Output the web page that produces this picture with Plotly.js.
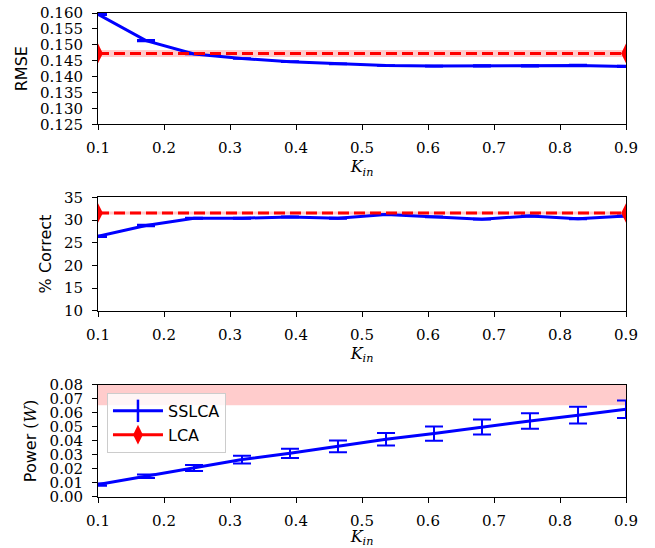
<!DOCTYPE html>
<html>
<head>
<meta charset="utf-8">
<script src="https://cdn.plot.ly/plotly-3.0.1.min.js"></script>
<style>html,body{margin:0;padding:0;background:#fff;}#chart{width:655px;height:548px;}</style>
</head>
<body>
<div id="chart"></div>
<script>
// ---- data ----
var kIn = [0.1, 0.1727, 0.2455, 0.3182, 0.3909, 0.4636, 0.5364, 0.6091, 0.6818, 0.7545, 0.8273, 0.9];

var sslcaRmse    = [0.1596, 0.1513, 0.1471, 0.1457, 0.1447, 0.1440, 0.1435, 0.1433, 0.1434, 0.1434, 0.1435, 0.1432];
var sslcaRmseErr = [0.0002, 0.0002, 0.0001, 0.0001, 0.0001, 0.0001, 0.0001, 0.0001, 0.0002, 0.0002, 0.0002, 0.0002];

var sslcaCorrect    = [26.4, 28.8, 30.4, 30.4, 30.7, 30.4, 31.2, 30.7, 30.2, 30.9, 30.3, 30.9];
var sslcaCorrectErr = [0.15, 0.15, 0.1, 0.1, 0.1, 0.1, 0.1, 0.1, 0.1, 0.1, 0.1, 0.1];

var sslcaPower    = [0.0089, 0.0148, 0.0207, 0.0267, 0.0312, 0.0362, 0.0412, 0.0453, 0.0500, 0.0543, 0.0584, 0.0626];
var sslcaPowerErr = [0.0008, 0.0012, 0.0021, 0.0027, 0.0033, 0.0042, 0.0045, 0.0051, 0.0054, 0.0055, 0.0060, 0.0063];

var lcaX = [0.1, 0.9];
var lcaRmse = 0.1473, lcaRmseErr = 0.0011;
var lcaCorrect = 31.55, lcaCorrectErr = 0.35;
var lcaPower = 0.09, lcaPowerErr = 0.0245;

var seriesNames = ['SSLCA', 'LCA'];

// ---- styles ----
var BLUE = '#0000ff', RED = '#ff0000', BAND = 'rgba(255,0,0,0.2)';
var traces = [];

function addPanel(xa, ya, yv, ye, lv, le) {
  var lo = lcaX.map(function(){return lv - le;});
  var hi = lcaX.map(function(){return lv + le;});
  traces.push({x: lcaX, y: lo, xaxis: xa, yaxis: ya, mode: 'lines', line: {width: 0, color: BAND}, showlegend: false, hoverinfo: 'skip'});
  traces.push({x: lcaX, y: hi, xaxis: xa, yaxis: ya, mode: 'lines', line: {width: 0, color: BAND}, fill: 'tonexty', fillcolor: BAND, showlegend: false, hoverinfo: 'skip'});
  traces.push({x: kIn, y: yv, xaxis: xa, yaxis: ya, mode: 'lines', name: seriesNames[0],
    showlegend: false, line: {color: BLUE, width: 3},
    error_y: {type: 'data', array: ye, visible: true, color: BLUE, thickness: 2, width: 9}});
  traces.push({x: lcaX, y: lcaX.map(function(){return lv;}), xaxis: xa, yaxis: ya, mode: 'lines+markers', name: seriesNames[1],
    showlegend: false, line: {color: RED, width: 3, dash: '11px,5px'},
    marker: {symbol: 'diamond-tall', size: 14, color: RED}, cliponaxis: true});
}
addPanel('x', 'y', sslcaRmse, sslcaRmseErr, lcaRmse, lcaRmseErr);
addPanel('x2', 'y2', sslcaCorrect, sslcaCorrectErr, lcaCorrect, lcaCorrectErr);
addPanel('x3', 'y3', sslcaPower, sslcaPowerErr, lcaPower, lcaPowerErr);

// legend entries (matplotlib-style handles: errorbar glyph and solid line with diamond)
traces.push({x: [null], y: [null], xaxis: 'x3', yaxis: 'y3', mode: 'lines+markers', name: seriesNames[0], showlegend: true,
  line: {color: BLUE, width: 3}, marker: {symbol: 'line-ns-open', size: 18, color: BLUE, line: {color: BLUE, width: 2.5}}});
traces.push({x: [null], y: [null], xaxis: 'x3', yaxis: 'y3', mode: 'lines+markers', name: seriesNames[1], showlegend: true,
  line: {color: RED, width: 3}, marker: {symbol: 'diamond-tall', size: 14, color: RED}});

var tickFont = {family: 'DejaVu Serif', size: 15, color: '#000'};
function xax(anchor) {
  return {anchor: anchor, domain: [0, 1], range: [0.1, 0.9], dtick: 0.1, tick0: 0.1, tickformat: '.1f',
    showline: true, mirror: true, linecolor: '#000', linewidth: 1, ticks: 'outside', ticklen: 5, tickcolor: '#000',
    ticklabelstandoff: 5,
    showgrid: false, zeroline: false, tickfont: tickFont,
    title: {text: '<i>K</i><sub><i>in</i></sub>', font: {family: 'DejaVu Serif', size: 16, color: '#000'}, standoff: 1}};
}
function yax(anchor, dom, range, dtick, fmt, title) {
  return {anchor: anchor, domain: dom, range: range, dtick: dtick, tick0: range[0], tickformat: fmt,
    showline: true, mirror: true, linecolor: '#000', linewidth: 1, ticks: 'outside', ticklen: 5, tickcolor: '#000',
    ticklabelstandoff: 6,
    showgrid: false, zeroline: false, tickfont: tickFont,
    title: {text: title, font: {family: 'DejaVu Sans', size: 16, color: '#000'}, standoff: 8}};
}

var layout = {
  width: 655, height: 548,
  margin: {l: 98, r: 29, t: 13, b: 51},
  paper_bgcolor: '#fff', plot_bgcolor: '#fff',
  xaxis: xax('y'), xaxis2: xax('y2'), xaxis3: xax('y3'),
  yaxis: yax('x', [0.770, 1], [0.125, 0.160], 0.005, '.3f', 'RMSE'),
  yaxis2: yax('x2', [0.385, 0.619], [10, 35], 5, 'd', '% Correct'),
  yaxis3: yax('x3', [0, 0.2316], [0, 0.08], 0.01, '.2f', 'Power <span style="font-family:DejaVu Serif">(<i>W</i>)</span>'),
  showlegend: true,
  legend: {x: 0.017, y: 0.215, xanchor: 'left', yanchor: 'top', traceorder: 'normal', bgcolor: 'rgba(255,255,255,0.8)',
    bordercolor: '#cccccc', borderwidth: 1, itemwidth: 50, font: {family: 'DejaVu Sans', size: 16, color: '#000'}, tracegroupgap: 0}
};

Plotly.newPlot('chart', traces, layout, {staticPlot: true});
</script>
</body>
</html>
